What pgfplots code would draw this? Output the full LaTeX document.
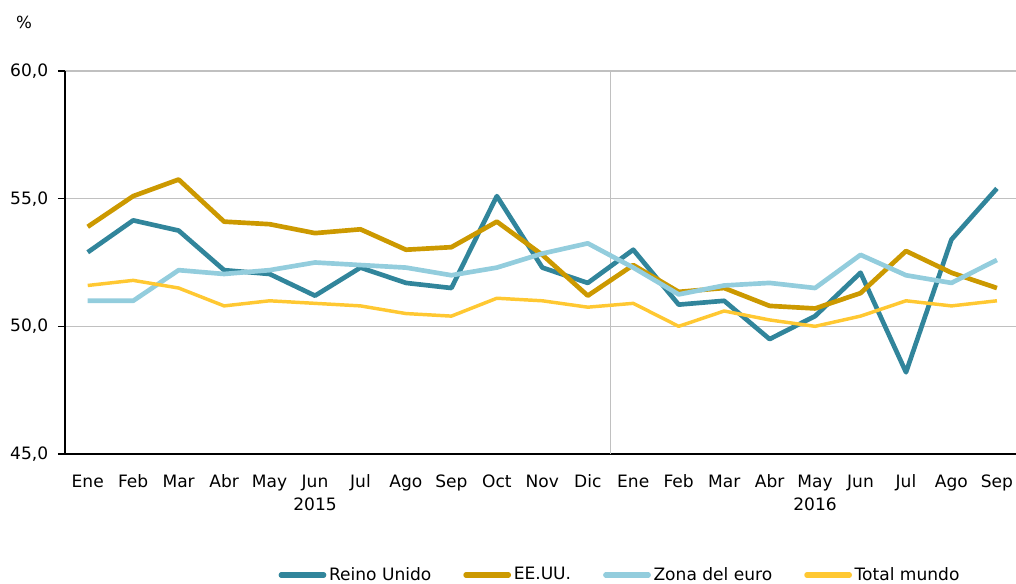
\documentclass[border=0pt]{standalone}
\usepackage{fontspec}
\setmainfont{DejaVu Sans}
\usepackage{pgfplots}
\pgfplotsset{compat=1.18}
\definecolor{cUK}{RGB}{49,133,155}
\definecolor{cUS}{RGB}{204,153,0}
\definecolor{cEZ}{RGB}{147,205,221}
\definecolor{cWD}{RGB}{255,200,50}
\definecolor{cGrid}{RGB}{192,192,192}
\begin{document}
\fontsize{12.5}{15}\selectfont
\begin{tikzpicture}
\begin{axis}[
  at={(48.75pt,97.5pt)}, anchor=south west,
  scale only axis, width=713.25pt, height=287.25pt,
  xmin=-0.5, xmax=20.42, ymin=45, ymax=60,
  axis x line*=bottom, axis y line*=left,
  axis line style={black, line width=1.5pt},
  ytick={45,50,55,60},
  ymajorgrids, major grid style={color=cGrid, line width=1pt},
  tick align=outside,
  ytick style={black, line width=1pt}, major tick length=5.25pt,
  xtick={0,...,20},
  xtick style={draw=none},
  xticklabels={Ene,Feb,Mar,Abr,May,Jun,Jul,Ago,Sep,Oct,Nov,Dic,Ene,Feb,Mar,Abr,May,Jun,Jul,Ago,Sep},
  xticklabel style={anchor=north, yshift=-4pt, font=\fontsize{12.8}{16.5}\selectfont, execute at begin node=\strut},
  yticklabel style={/pgf/number format/fixed, /pgf/number format/fixed zerofill, /pgf/number format/precision=1, /pgf/number format/use comma, /pgf/number format/assume math mode=true, font=\fontsize{12.8}{15}\selectfont, xshift=-3pt},
  extra x ticks={11.5},
  extra x tick labels={},
  extra x tick style={grid=major, tick style={draw=cGrid, line width=1pt}, major grid style={color=cGrid, line width=1pt}},
  legend style={at={(0.584,-0.316)}, anchor=center, draw=none, fill=none, legend columns=4,
    font=\fontsize{12.8}{15}\selectfont,
    /tikz/every even column/.append style={column sep=22pt}},
  legend cell align=left,
  legend image code/.code={\draw[#1, line width=3.8pt, line cap=round] (0pt,0pt) -- (32pt,0pt);},
  line join=round,
  clip=false,
]
\addplot[cUK, line width=3.5pt, mark=none] coordinates {
(0,52.9)(1,54.15)(2,53.75)(3,52.2)(4,52.05)(5,51.2)(6,52.3)(7,51.7)(8,51.5)(9,55.1)(10,52.3)(11,51.7)
(12,53.0)(13,50.85)(14,51.0)(15,49.5)(16,50.4)(17,52.1)(18,48.2)(19,53.4)(20,55.4)};
\addlegendentry{Reino Unido}
\addplot[cUS, line width=3.5pt, mark=none] coordinates {
(0,53.9)(1,55.1)(2,55.75)(3,54.1)(4,54.0)(5,53.65)(6,53.8)(7,53.0)(8,53.1)(9,54.1)(10,52.8)(11,51.2)
(12,52.4)(13,51.35)(14,51.5)(15,50.8)(16,50.7)(17,51.3)(18,52.95)(19,52.1)(20,51.5)};
\addlegendentry{EE.UU.}
\addplot[cEZ, line width=3.5pt, mark=none] coordinates {
(0,51.0)(1,51.0)(2,52.2)(3,52.05)(4,52.2)(5,52.5)(6,52.4)(7,52.3)(8,52.0)(9,52.3)(10,52.85)(11,53.25)
(12,52.3)(13,51.25)(14,51.6)(15,51.7)(16,51.5)(17,52.8)(18,52.0)(19,51.7)(20,52.6)};
\addlegendentry{Zona del euro}
\addplot[cWD, line width=2.6pt, mark=none] coordinates {
(0,51.6)(1,51.8)(2,51.5)(3,50.8)(4,51.0)(5,50.9)(6,50.8)(7,50.5)(8,50.4)(9,51.1)(10,51.0)(11,50.75)
(12,50.9)(13,50.0)(14,50.6)(15,50.25)(16,50.0)(17,50.4)(18,51.0)(19,50.8)(20,51.0)};
\addlegendentry{Total mundo}
\node[anchor=center, font=\fontsize{12.8}{15}\selectfont] at (axis cs:5,45) [yshift=-37.5pt] {2015};
\node[anchor=center, font=\fontsize{12.8}{15}\selectfont] at (axis cs:16,45) [yshift=-37.5pt] {2016};
\end{axis}
\node[anchor=center] at (18pt,421.5pt) {\%};
\pgfresetboundingbox
\path (0pt,0pt) rectangle (762pt,438pt);
\end{tikzpicture}
\end{document}
